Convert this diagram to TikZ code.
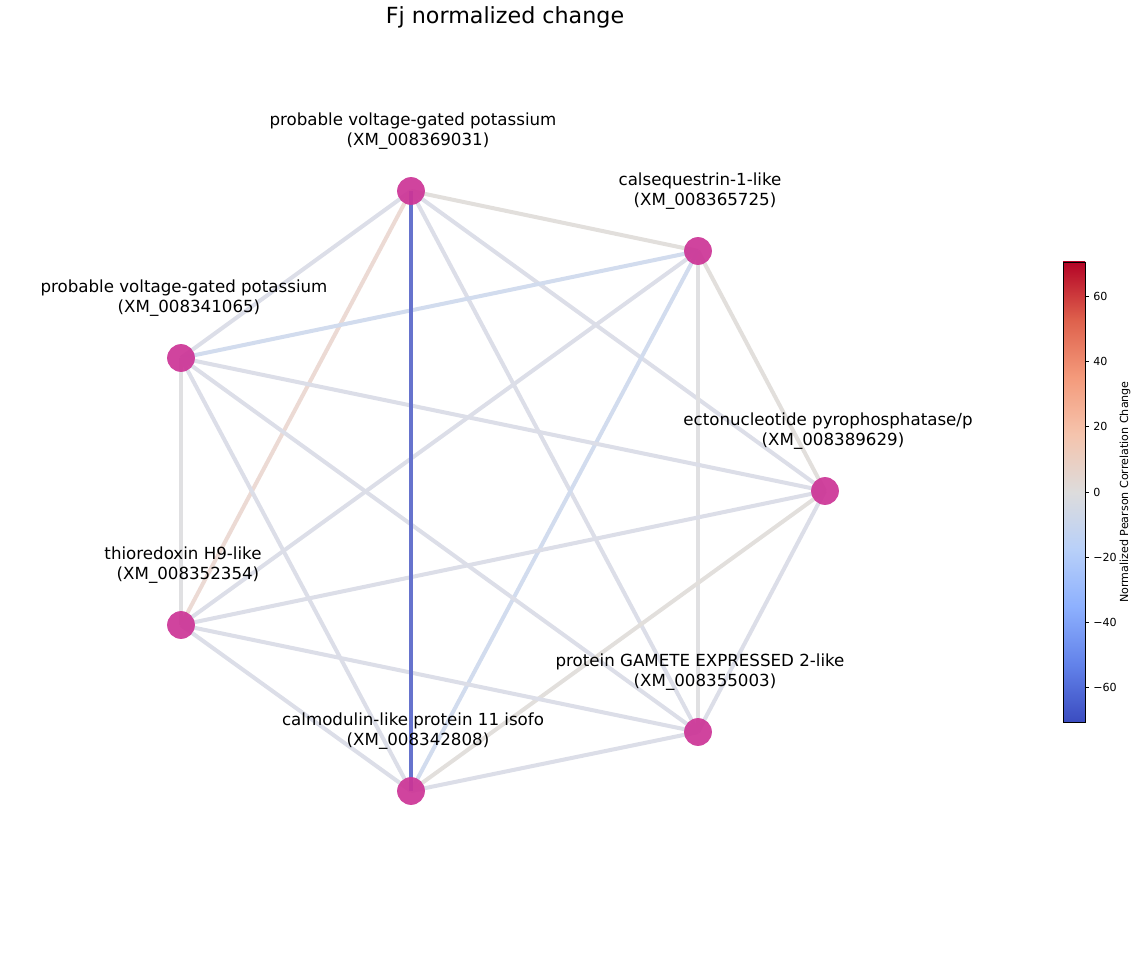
\documentclass[tikz,border=0pt]{standalone}
\usepackage{fontspec}
\setmainfont{DejaVu Sans}
\usetikzlibrary{backgrounds}

% colours (coolwarm map, blended light)
\definecolor{genefill}{RGB}{204,52,150}
\definecolor{egray}{RGB}{220,222,232}
\definecolor{eblue}{RGB}{102,115,205}
\definecolor{epink}{RGB}{236,218,212}
\definecolor{ewarm}{RGB}{226,223,220}
\definecolor{elight}{RGB}{210,220,238}
\definecolor{eneutral}{RGB}{224,224,226}
\definecolor{cw0}{RGB}{59,76,192}
\definecolor{cw1}{RGB}{98,130,234}
\definecolor{cw2}{RGB}{141,176,254}
\definecolor{cw3}{RGB}{184,208,249}
\definecolor{cw4}{RGB}{221,220,220}
\definecolor{cw5}{RGB}{245,196,173}
\definecolor{cw6}{RGB}{244,154,123}
\definecolor{cw7}{RGB}{222,96,76}
\definecolor{cw8}{RGB}{180,4,38}

\pgfdeclareverticalshading{coolwarm}{100bp}{color(0bp)=(cw0); color(25bp)=(cw0);
  color(31.25bp)=(cw1); color(37.5bp)=(cw2); color(43.75bp)=(cw3); color(50bp)=(cw4);
  color(56.25bp)=(cw5); color(62.5bp)=(cw6); color(68.75bp)=(cw7); color(75bp)=(cw8);
  color(100bp)=(cw8)}

\tikzset{
  gene/.style={circle, fill=genefill, fill opacity=0.92, minimum size=20pt, inner sep=0pt},
  genelabel/.style={align=center, font=\fontsize{12}{14.4}\selectfont, inner sep=0pt},
  edge/.style={line width=2.9pt},
  ticklabel/.style={anchor=west, font=\fontsize{8}{9.6}\selectfont, inner sep=0pt}
}

\begin{document}
\begin{tikzpicture}[x=0.72pt, y=-0.72pt]
    \useasboundingbox (0,0) rectangle (1138,962);

    % title
    \node[font=\fontsize{16}{19.2}\selectfont] (title) at (505,17) {Fj normalized change};

    % genes
    \node[gene] (A) at (411,191) {};
    \node[gene] (B) at (698,251) {};
    \node[gene] (C) at (181,358) {};
    \node[gene] (D) at (825,491) {};
    \node[gene] (E) at (181,625) {};
    \node[gene] (F) at (698,732) {};
    \node[gene] (G) at (411,791) {};

    % labels
    \node[genelabel] (Alab) at (413,131) {probable voltage-gated potassium\\\hspace*{0.6em}(XM\_008369031)};
    \node[genelabel] (Blab) at (700,191) {calsequestrin-1-like\\\hspace*{0.6em}(XM\_008365725)};
    \node[genelabel] (Clab) at (184,298) {probable voltage-gated potassium\\\hspace*{0.6em}(XM\_008341065)};
    \node[genelabel] (Dlab) at (828,431) {ectonucleotide pyrophosphatase/p\\\hspace*{0.6em}(XM\_008389629)};
    \node[genelabel] (Elab) at (183,565) {thioredoxin H9-like\\\hspace*{0.6em}(XM\_008352354)};
    \node[genelabel] (Flab) at (700,672) {protein GAMETE EXPRESSED 2-like\\\hspace*{0.6em}(XM\_008355003)};
    \node[genelabel] (Glab) at (413,731) {calmodulin-like protein 11 isofo\\\hspace*{0.6em}(XM\_008342808)};

    % edges
    \begin{scope}[on background layer]
        \draw[edge, ewarm] (A.center) -- (B.center);
        \draw[edge, egray] (A.center) -- (C.center);
        \draw[edge, egray] (A.center) -- (D.center);
        \draw[edge, epink] (A.center) -- (E.center);
        \draw[edge, egray] (A.center) -- (F.center);
        \draw[edge, elight] (B.center) -- (C.center);
        \draw[edge, ewarm] (B.center) -- (D.center);
        \draw[edge, egray] (B.center) -- (E.center);
        \draw[edge, eneutral] (B.center) -- (F.center);
        \draw[edge, elight] (B.center) -- (G.center);
        \draw[edge, egray] (C.center) -- (D.center);
        \draw[edge, eneutral] (C.center) -- (E.center);
        \draw[edge, egray] (C.center) -- (F.center);
        \draw[edge, egray] (C.center) -- (G.center);
        \draw[edge, egray] (D.center) -- (E.center);
        \draw[edge, egray] (D.center) -- (F.center);
        \draw[edge, ewarm] (D.center) -- (G.center);
        \draw[edge, egray] (E.center) -- (F.center);
        \draw[edge, egray] (E.center) -- (G.center);
        \draw[edge, egray] (F.center) -- (G.center);
        \draw[edge, eblue] (A.center) -- (G.center);
    \end{scope}

    % colour bar
    \shade[shading=coolwarm] (1063,262) rectangle (1085,722);
    \draw[line width=0.6pt] (1063,262) rectangle (1085,722);
    \foreach \v/\t in {60/60, 40/40, 20/20, 0/0, -20/−20, -40/−40, -60/−60} {
        \draw[line width=0.6pt] (1085,492-3.265*\v) -- (1089,492-3.265*\v);
        \node[ticklabel] (tick\v) at (1093,492-3.265*\v) {\t};
    }
    \node[rotate=90, font=\fontsize{8}{9.6}\selectfont] (cbarlabel) at (1125,492) {Normalized Pearson Correlation Change};
\end{tikzpicture}
\end{document}
